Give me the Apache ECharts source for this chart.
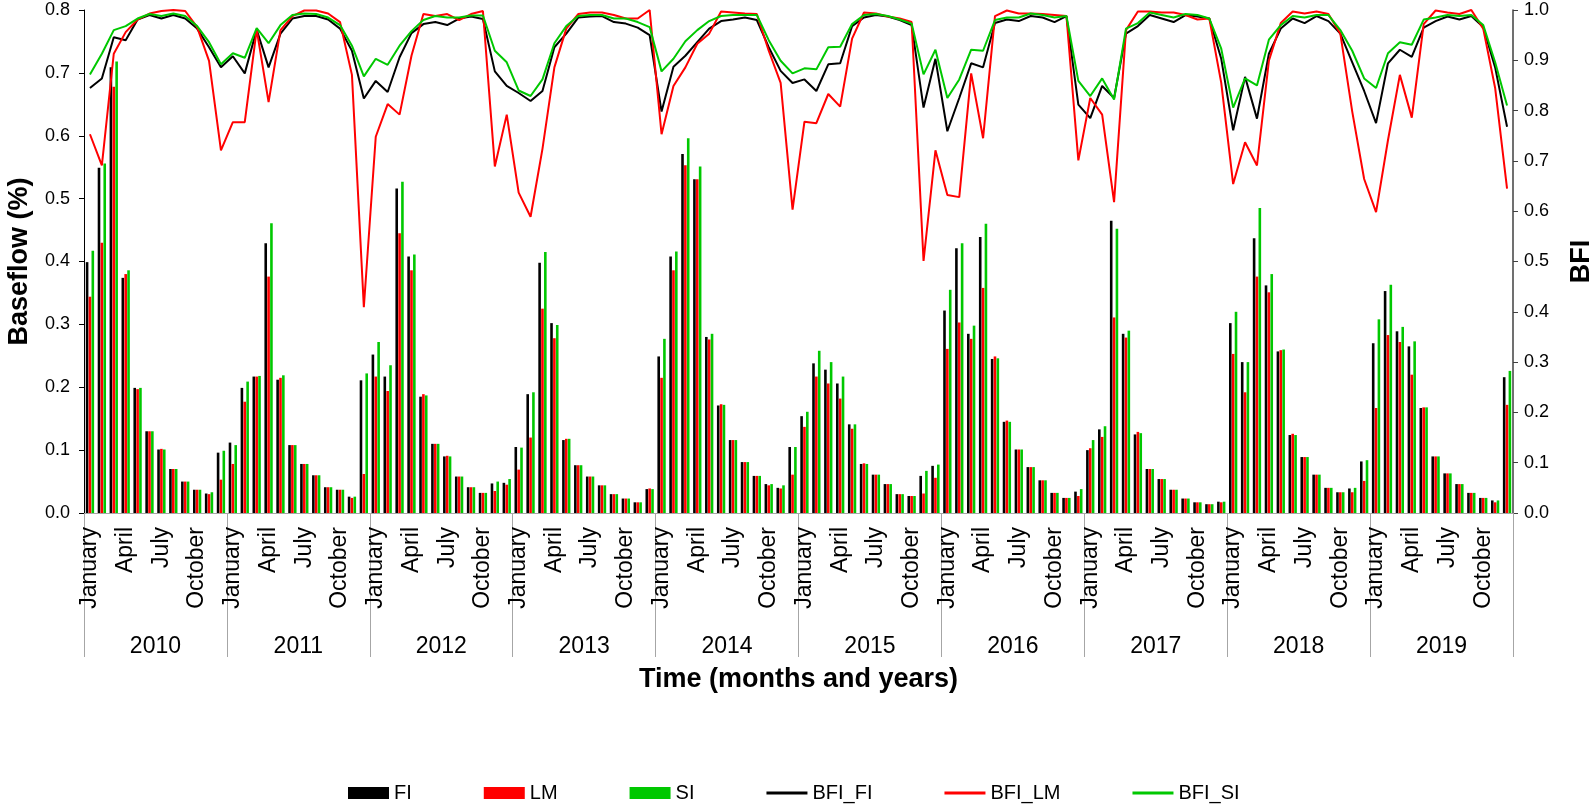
<!DOCTYPE html>
<html>
<head>
<meta charset="utf-8">
<script src="https://cdn.jsdelivr.net/npm/echarts@6/dist/echarts.min.js"></script>
<style>
  html, body { margin: 0; padding: 0; background: #ffffff; }
  #chart { width: 1596px; height: 811px; }
</style>
</head>
<body>
<div id="chart"></div>
<script>
// Monthly baseflow (%) and baseflow index, 2010-2019
const years = ['2010', '2011', '2012', '2013', '2014', '2015', '2016', '2017', '2018', '2019'];
const monthNames = ['January', 'February', 'March', 'April', 'May', 'June',
  'July', 'August', 'September', 'October', 'November', 'December'];

// Baseflow, FI method
const fi = [
  0.399, 0.549, 0.709, 0.374, 0.199, 0.130, 0.101, 0.070, 0.050, 0.037, 0.031, 0.096,
  0.112, 0.199, 0.217, 0.429, 0.212, 0.108, 0.078, 0.060, 0.041, 0.037, 0.026, 0.211,
  0.252, 0.217, 0.516, 0.408, 0.185, 0.110, 0.090, 0.058, 0.041, 0.032, 0.047, 0.048,
  0.105, 0.189, 0.398, 0.302, 0.116, 0.076, 0.058, 0.044, 0.030, 0.023, 0.017, 0.038,
  0.249, 0.408, 0.571, 0.531, 0.280, 0.171, 0.116, 0.081, 0.059, 0.046, 0.040, 0.105,
  0.154, 0.238, 0.228, 0.206, 0.141, 0.078, 0.061, 0.046, 0.030, 0.027, 0.059, 0.075,
  0.322, 0.421, 0.285, 0.439, 0.245, 0.145, 0.101, 0.073, 0.052, 0.032, 0.024, 0.034,
  0.100, 0.133, 0.465, 0.285, 0.125, 0.070, 0.054, 0.037, 0.023, 0.017, 0.014, 0.018,
  0.302, 0.240, 0.437, 0.362, 0.257, 0.124, 0.089, 0.061, 0.040, 0.033, 0.039, 0.082,
  0.270, 0.353, 0.289, 0.265, 0.167, 0.090, 0.063, 0.046, 0.032, 0.024, 0.020, 0.216
];

// Baseflow, LM method
const lm = [
  0.344, 0.430, 0.678, 0.380, 0.197, 0.130, 0.102, 0.070, 0.050, 0.037, 0.030, 0.053,
  0.078, 0.177, 0.217, 0.376, 0.215, 0.108, 0.078, 0.060, 0.041, 0.037, 0.024, 0.062,
  0.217, 0.194, 0.445, 0.386, 0.189, 0.110, 0.091, 0.058, 0.041, 0.032, 0.035, 0.045,
  0.069, 0.120, 0.325, 0.278, 0.118, 0.076, 0.058, 0.044, 0.030, 0.023, 0.017, 0.039,
  0.215, 0.386, 0.553, 0.531, 0.276, 0.173, 0.116, 0.081, 0.059, 0.044, 0.039, 0.061,
  0.137, 0.217, 0.206, 0.182, 0.134, 0.079, 0.061, 0.046, 0.030, 0.027, 0.031, 0.056,
  0.261, 0.303, 0.277, 0.358, 0.249, 0.147, 0.101, 0.073, 0.052, 0.032, 0.024, 0.027,
  0.103, 0.121, 0.311, 0.279, 0.129, 0.070, 0.054, 0.037, 0.023, 0.017, 0.014, 0.017,
  0.253, 0.192, 0.376, 0.351, 0.259, 0.126, 0.089, 0.061, 0.040, 0.033, 0.033, 0.051,
  0.167, 0.283, 0.272, 0.220, 0.168, 0.090, 0.063, 0.046, 0.032, 0.024, 0.017, 0.172
];

// Baseflow, SI method
const si = [
  0.417, 0.556, 0.718, 0.386, 0.199, 0.130, 0.101, 0.070, 0.050, 0.037, 0.033, 0.099,
  0.108, 0.209, 0.218, 0.461, 0.219, 0.108, 0.078, 0.060, 0.041, 0.037, 0.026, 0.222,
  0.272, 0.235, 0.527, 0.411, 0.187, 0.110, 0.090, 0.058, 0.041, 0.032, 0.050, 0.054,
  0.104, 0.192, 0.415, 0.299, 0.118, 0.076, 0.058, 0.044, 0.030, 0.023, 0.017, 0.038,
  0.277, 0.416, 0.596, 0.551, 0.285, 0.172, 0.116, 0.081, 0.059, 0.046, 0.044, 0.105,
  0.161, 0.258, 0.240, 0.217, 0.141, 0.078, 0.061, 0.046, 0.030, 0.027, 0.067, 0.077,
  0.355, 0.429, 0.298, 0.460, 0.246, 0.145, 0.101, 0.073, 0.052, 0.032, 0.024, 0.038,
  0.116, 0.138, 0.452, 0.290, 0.127, 0.070, 0.054, 0.037, 0.023, 0.017, 0.014, 0.018,
  0.320, 0.240, 0.485, 0.380, 0.260, 0.124, 0.089, 0.061, 0.040, 0.033, 0.040, 0.084,
  0.308, 0.363, 0.296, 0.273, 0.168, 0.090, 0.063, 0.046, 0.032, 0.024, 0.020, 0.226
];

// Baseflow index for each method
const bfiFi = [
  0.845, 0.864, 0.946, 0.940, 0.981, 0.990, 0.983, 0.990, 0.983, 0.963, 0.926, 0.886,
  0.908, 0.874, 0.961, 0.886, 0.953, 0.983, 0.988, 0.988, 0.981, 0.963, 0.919, 0.824,
  0.859, 0.837, 0.906, 0.954, 0.972, 0.976, 0.970, 0.983, 0.987, 0.982, 0.878, 0.849,
  0.835, 0.819, 0.839, 0.926, 0.953, 0.985, 0.987, 0.988, 0.976, 0.973, 0.965, 0.950,
  0.798, 0.887, 0.909, 0.936, 0.963, 0.978, 0.981, 0.985, 0.980, 0.926, 0.879, 0.855,
  0.862, 0.839, 0.892, 0.894, 0.968, 0.985, 0.990, 0.987, 0.980, 0.970, 0.806, 0.903,
  0.759, 0.825, 0.894, 0.886, 0.974, 0.981, 0.978, 0.988, 0.985, 0.976, 0.988, 0.812,
  0.785, 0.849, 0.825, 0.953, 0.968, 0.990, 0.983, 0.976, 0.990, 0.987, 0.983, 0.903,
  0.761, 0.867, 0.784, 0.913, 0.963, 0.983, 0.974, 0.988, 0.978, 0.953, 0.896, 0.839,
  0.775, 0.894, 0.921, 0.907, 0.965, 0.978, 0.987, 0.981, 0.988, 0.966, 0.886, 0.768
];

const bfiLm = [
  0.753, 0.691, 0.913, 0.956, 0.981, 0.993, 0.998, 1.000, 0.998, 0.966, 0.899, 0.721,
  0.777, 0.777, 0.961, 0.817, 0.960, 0.988, 0.999, 0.999, 0.993, 0.976, 0.871, 0.409,
  0.748, 0.813, 0.792, 0.909, 0.992, 0.988, 0.992, 0.980, 0.992, 0.998, 0.689, 0.792,
  0.637, 0.589, 0.724, 0.886, 0.963, 0.992, 0.995, 0.995, 0.990, 0.983, 0.983, 1.000,
  0.753, 0.849, 0.886, 0.933, 0.953, 0.997, 0.995, 0.993, 0.992, 0.919, 0.855, 0.603,
  0.778, 0.775, 0.833, 0.808, 0.943, 0.995, 0.993, 0.987, 0.983, 0.976, 0.501, 0.721,
  0.632, 0.628, 0.874, 0.745, 0.988, 0.999, 0.993, 0.993, 0.992, 0.990, 0.988, 0.701,
  0.825, 0.792, 0.618, 0.960, 0.997, 0.997, 0.995, 0.995, 0.990, 0.981, 0.983, 0.855,
  0.654, 0.737, 0.691, 0.899, 0.974, 0.997, 0.993, 0.997, 0.992, 0.953, 0.798, 0.664,
  0.598, 0.741, 0.871, 0.786, 0.972, 0.999, 0.995, 0.992, 1.000, 0.963, 0.845, 0.645
];

const bfiSi = [
  0.872, 0.913, 0.960, 0.968, 0.983, 0.992, 0.988, 0.993, 0.988, 0.968, 0.936, 0.892,
  0.914, 0.905, 0.964, 0.934, 0.970, 0.990, 0.993, 0.992, 0.985, 0.970, 0.929, 0.868,
  0.903, 0.891, 0.929, 0.958, 0.980, 0.988, 0.985, 0.985, 0.989, 0.989, 0.919, 0.896,
  0.840, 0.829, 0.862, 0.934, 0.968, 0.988, 0.990, 0.990, 0.983, 0.983, 0.976, 0.966,
  0.878, 0.903, 0.938, 0.960, 0.978, 0.988, 0.990, 0.990, 0.990, 0.940, 0.899, 0.874,
  0.884, 0.882, 0.926, 0.927, 0.972, 0.990, 0.992, 0.988, 0.981, 0.973, 0.872, 0.921,
  0.825, 0.862, 0.921, 0.919, 0.980, 0.985, 0.985, 0.993, 0.990, 0.985, 0.988, 0.859,
  0.829, 0.864, 0.822, 0.963, 0.974, 0.995, 0.990, 0.985, 0.992, 0.990, 0.983, 0.923,
  0.806, 0.864, 0.850, 0.941, 0.970, 0.988, 0.985, 0.990, 0.990, 0.960, 0.919, 0.864,
  0.845, 0.914, 0.936, 0.931, 0.981, 0.985, 0.990, 0.988, 0.990, 0.970, 0.896, 0.810
];

// One category per month; labels show the month name only
const monthKeys = [];
years.forEach(function (y) {
  monthNames.forEach(function (m, i) { monthKeys.push(y + '-' + (i + 1)); });
});

const FONT = 'Liberation Sans, Arial, sans-serif';
const BLACK = '#000000';
const RED = '#ff0000';
const GREEN = '#00c800';
// Thin horizontal stroke used as the legend key of the index lines
const LINE_KEY = 'path://M0,0 L41,0 L41,3 L0,3 Z';

const chart = echarts.init(document.getElementById('chart'), null, { renderer: 'canvas' });

function barSeries(name, data, color) {
  return {
    name: name, type: 'bar', data: data,
    xAxisIndex: 0, yAxisIndex: 0,
    barWidth: 2.6, barGap: '10%',
    itemStyle: { color: color },
    emphasis: { disabled: true }
  };
}
function lineSeries(name, data, color) {
  return {
    name: name, type: 'line', data: data,
    xAxisIndex: 0, yAxisIndex: 1,
    symbol: 'none', showSymbol: false,
    lineStyle: { color: color, width: 2 },
    itemStyle: { color: color },
    emphasis: { disabled: true }
  };
}

chart.setOption({
  animation: false,
  backgroundColor: '#ffffff',
  textStyle: { fontFamily: FONT, color: '#000' },
  grid: { left: 84, right: 83, top: 10, bottom: 298, containLabel: false, outerBoundsMode: 'none' },
  legend: {
    left: 343, top: 778,
    itemWidth: 41, itemHeight: 12, itemGap: 72,
    symbolKeepAspect: true,
    textStyle: { fontFamily: FONT, fontSize: 20, color: '#000' },
    data: [
      { name: 'FI', icon: 'rect' },
      { name: 'LM', icon: 'rect' },
      { name: 'SI', icon: 'rect' },
      { name: 'BFI_FI', icon: LINE_KEY, itemStyle: { color: BLACK } },
      { name: 'BFI_LM', icon: LINE_KEY, itemStyle: { color: RED } },
      { name: 'BFI_SI', icon: LINE_KEY, itemStyle: { color: GREEN } }
    ]
  },
  xAxis: [
    {
      type: 'category', data: monthKeys, position: 'bottom', boundaryGap: true,
      axisLine: { show: true, lineStyle: { color: '#a6a6a6', width: 1 } },
      axisTick: { show: false },
      axisLabel: {
        rotate: 90, margin: 14, fontSize: 23, color: '#000', fontFamily: FONT,
        interval: function (index) { return index % 3 === 0; },
        formatter: function (value, index) { return monthNames[index % 12]; }
      },
      splitLine: { show: false },
      name: 'Time (months and years)', nameLocation: 'middle', nameGap: 153,
      nameTextStyle: { fontSize: 27, fontWeight: 'bold', color: '#000', fontFamily: FONT }
    },
    {
      type: 'category', data: years, position: 'bottom', boundaryGap: true,
      axisLine: { show: false },
      axisTick: { show: true, interval: 0, length: 144, lineStyle: { color: '#a6a6a6', width: 1 } },
      axisLabel: { interval: 0, margin: 122, fontSize: 23, color: '#000', fontFamily: FONT },
      splitLine: { show: false }
    }
  ],
  yAxis: [
    {
      type: 'value', position: 'left', min: 0, max: 0.8, interval: 0.1,
      axisLine: { show: true, lineStyle: { color: '#000', width: 1 } },
      axisTick: { show: true, length: 5, lineStyle: { color: '#000' } },
      axisLabel: { margin: 14, fontSize: 18, color: '#000', fontFamily: FONT,
        formatter: function (v) { return v.toFixed(1); } },
      splitLine: { show: false },
      name: 'Baseflow (%)', nameLocation: 'middle', nameRotate: 90, nameGap: 51,
      nameTextStyle: { fontSize: 27, fontWeight: 'bold', color: '#000', fontFamily: FONT }
    },
    {
      type: 'value', position: 'right', min: 0, max: 1, interval: 0.1,
      axisLine: { show: true, lineStyle: { color: '#404040', width: 1.5 } },
      axisTick: { show: true, length: 5, lineStyle: { color: '#404040' } },
      axisLabel: { margin: 11, fontSize: 18, color: '#000', fontFamily: FONT,
        formatter: function (v) { return v.toFixed(1); } },
      splitLine: { show: false },
      name: 'BFI', nameLocation: 'middle', nameRotate: 90, nameGap: 55,
      nameTextStyle: { fontSize: 27, fontWeight: 'bold', color: '#000', fontFamily: FONT }
    }
  ],
  series: [
    barSeries('FI', fi, BLACK),
    barSeries('LM', lm, RED),
    barSeries('SI', si, GREEN),
    lineSeries('BFI_FI', bfiFi, BLACK),
    lineSeries('BFI_LM', bfiLm, RED),
    lineSeries('BFI_SI', bfiSi, GREEN)
  ]
});
</script>
</body>
</html>
